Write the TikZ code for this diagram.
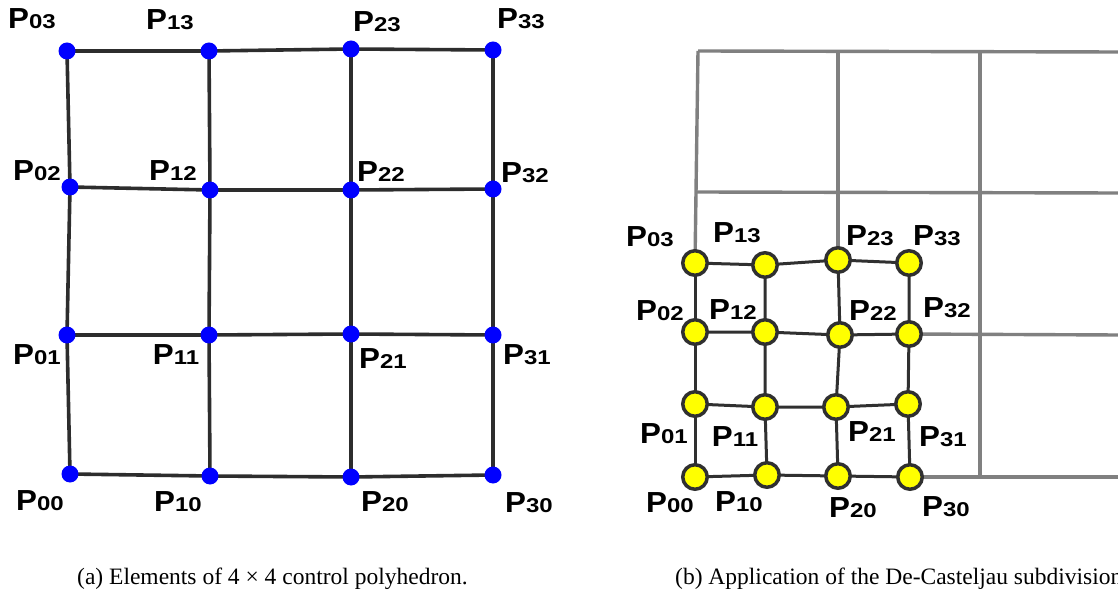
\documentclass[tikz,border=0pt]{standalone}
\usepackage{graphicx}
\usepackage{fontspec}
\setmainfont{Liberation Serif}
\newfontfamily\labfont{Liberation Sans}
\definecolor{gline}{HTML}{2D2D2D}
\definecolor{sline}{HTML}{303030}
\definecolor{grey}{HTML}{808080}
\definecolor{pblue}{HTML}{0000FF}
\definecolor{pyel}{HTML}{FFFF00}
\newcommand\lbl[1]{{\labfont\bfseries\fontsize{29}{29}\selectfont\scalebox{1.08}[1]{P}\fontsize{20}{20}\selectfont\scalebox{1.2}[1]{#1}}}
\tikzset{
  bdot/.style={circle, fill=pblue, minimum size=17pt, inner sep=0pt},
  ydot/.style={circle, fill=pyel, draw=sline, line width=3.5pt, minimum size=24.5pt, inner sep=0pt},
  lab/.style={inner sep=0pt, anchor=center},
  bline/.style={draw=gline, line width=3.6pt},
  sgrid/.style={draw=sline, line width=3pt},
  ggrid/.style={draw=grey, line width=3.4pt},
  captxt/.style={inner sep=0pt, font=\fontsize{23.5}{25}\selectfont}
}
\begin{document}
\begin{tikzpicture}[x=1pt,y=-1pt]
\useasboundingbox (0,0) rectangle (1118,601);
\clip (0,0) rectangle (1118,601);
% ---------- left panel ----------
\coordinate (a03) at (67,51);
\coordinate (a13) at (209,51);
\coordinate (a23) at (351,49);
\coordinate (a33) at (493,50);
\coordinate (a02) at (70,187);
\coordinate (a12) at (210,190);
\coordinate (a22) at (351,190);
\coordinate (a32) at (493,189);
\coordinate (a01) at (67,335);
\coordinate (a11) at (209,335);
\coordinate (a21) at (351,334);
\coordinate (a31) at (493,335);
\coordinate (a00) at (70,474);
\coordinate (a10) at (210,476);
\coordinate (a20) at (351,477);
\coordinate (a30) at (493,475);
\foreach \r in {0,1,2,3}{
  \draw[bline] (a0\r) -- (a1\r) -- (a2\r) -- (a3\r);
  \draw[bline] (a\r0) -- (a\r1) -- (a\r2) -- (a\r3);
}
\foreach \n in {03,13,23,33,02,12,22,32,01,11,21,31,00,10,20,30}{
  \node[bdot] (x\n) at (a\n) {};
}
\node[lab] (la03) at (32,19) {\lbl{03}};
\node[lab] (la13) at (170,20) {\lbl{13}};
\node[lab] (la23) at (377,22) {\lbl{23}};
\node[lab] (la33) at (521,19) {\lbl{33}};
\node[lab] (la02) at (37,171) {\lbl{02}};
\node[lab] (la12) at (173,171) {\lbl{12}};
\node[lab] (la22) at (381,172) {\lbl{22}};
\node[lab] (la32) at (525,173) {\lbl{32}};
\node[lab] (la01) at (37,355) {\lbl{01}};
\node[lab] (la11) at (176,355) {\lbl{11}};
\node[lab] (la21) at (383,359) {\lbl{21}};
\node[lab] (la31) at (527,355) {\lbl{31}};
\node[lab] (la00) at (40,501) {\lbl{00}};
\node[lab] (la10) at (178,502) {\lbl{10}};
\node[lab] (la20) at (385,502) {\lbl{20}};
\node[lab] (la30) at (529,503) {\lbl{30}};
% ---------- right panel: grey grid ----------
\coordinate (gTL) at (698,51);
\coordinate (gTM) at (838,51);
\coordinate (gTR) at (980,51);
\coordinate (gTE) at (1118,52);
\coordinate (gML) at (697,192);
\coordinate (gME) at (1118,193);
\coordinate (gRB) at (980,477);
\coordinate (gE1) at (1118,335);
\coordinate (gE0) at (1118,477);
\coordinate (b03) at (695,263);
\coordinate (b13) at (765,265);
\coordinate (b23) at (838,260);
\coordinate (b33) at (909,263);
\coordinate (b02) at (695,332);
\coordinate (b12) at (765,332);
\coordinate (b22) at (840,335);
\coordinate (b32) at (909,334);
\coordinate (b01) at (695,404);
\coordinate (b11) at (765,407);
\coordinate (b21) at (836,407);
\coordinate (b31) at (908,404);
\coordinate (b00) at (695,477);
\coordinate (b10) at (767,475);
\coordinate (b20) at (838,476);
\coordinate (b30) at (910,477);
\draw[ggrid] (gTL) -- (gTE);
\draw[ggrid] (gML) -- (gME);
\draw[ggrid] (gTL) -- (b03);
\draw[ggrid] (gTM) -- (b23);
\draw[ggrid] (gTR) -- (gRB);
\draw[ggrid] (b32) -- (gE1);
\draw[ggrid] (b30) -- (gE0);
\foreach \r in {0,1,2,3}{
  \draw[sgrid] (b0\r) -- (b1\r) -- (b2\r) -- (b3\r);
  \draw[sgrid] (b\r0) -- (b\r1) -- (b\r2) -- (b\r3);
}
\foreach \n in {03,13,23,33,02,12,22,32,01,11,21,31,00,10,20,30}{
  \node[ydot] (y\n) at (b\n) {};
}
\node[lab] (lb03) at (650,237) {\lbl{03}};
\node[lab] (lb13) at (737,233) {\lbl{13}};
\node[lab] (lb23) at (870,236) {\lbl{23}};
\node[lab] (lb33) at (937,236) {\lbl{33}};
\node[lab] (lb02) at (660,311) {\lbl{02}};
\node[lab] (lb12) at (733,310) {\lbl{12}};
\node[lab] (lb22) at (873,311) {\lbl{22}};
\node[lab] (lb32) at (947,308) {\lbl{32}};
\node[lab] (lb01) at (664,434) {\lbl{01}};
\node[lab] (lb11) at (735,437) {\lbl{11}};
\node[lab] (lb21) at (872,432) {\lbl{21}};
\node[lab] (lb31) at (943,437) {\lbl{31}};
\node[lab] (lb00) at (670,503) {\lbl{00}};
\node[lab] (lb10) at (739,502) {\lbl{10}};
\node[lab] (lb20) at (853,508) {\lbl{20}};
\node[lab] (lb30) at (946,507) {\lbl{30}};
% ---------- captions ----------
\node[captxt, anchor=west] (capa) at (77,579) {(a) Elements of 4 × 4 control polyhedron.};
\node[captxt, anchor=west] (capb) at (675,579) {(b) Application of the De-Casteljau subdivision};
\end{tikzpicture}
\end{document}
